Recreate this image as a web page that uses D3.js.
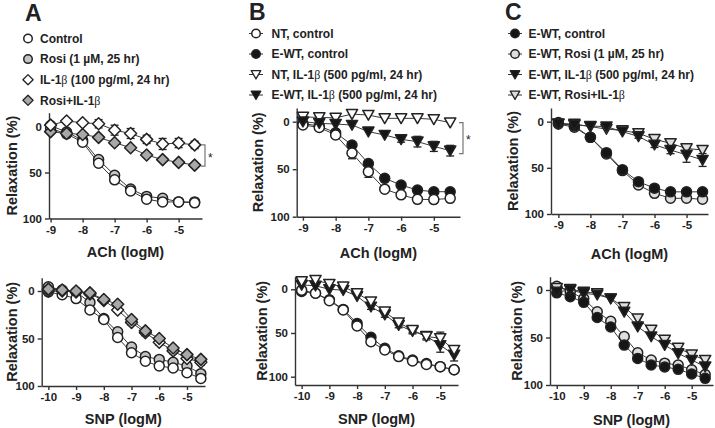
<!DOCTYPE html>
<html><head><meta charset="utf-8">
<script src="https://cdn.jsdelivr.net/npm/d3@7"></script>
<style>body{margin:0;background:#fff}text{font-family:"Liberation Sans",Arial,sans-serif;font-weight:bold;fill:#222}</style>
</head><body>
<svg id="c" width="715" height="428"></svg>
<script>
// ---------- data ----------
const achX = [-9,-8.5,-8,-7.5,-7,-6.5,-6,-5.5,-5,-4.5];
const snpX = [-10,-9.5,-9,-8.5,-8,-7.5,-7,-6.5,-6,-5.5,-5,-4.5];
const yTicks = [0,50,100];
const achTicks = [-9,-8,-7,-6,-5];
const snpTicks = [-10,-9,-8,-7,-6,-5];
const panelLabels = ["A","B","C"];

// Panel A
const legendA = ["Control","Rosi (1 µM, 25 hr)","IL-1β (100 pg/ml, 24 hr)","Rosi+IL-1β"];
const aAchControl = [2,8,17,40,58,70,79,82,82,83];
const aAchRosi    = [-1,6,15,36,53,68,76,78,82,82];
const aAchIL      = [-1.5,-6,-4,-3,4,7.6,14,19,18,20];
const aAchILErr   = [0,0,0,4.5,5.4,5.4,4.5,6,5,4];
const aAchRosiIL  = [5.6,7.6,8.6,11.8,17.6,23,31,36,39,42];
const aSnpControl = [1,4,8,20,30,49,65,74,79,81,86,92];
const aSnpRosi    = [-4.5,-1,1,12,29,43,59,69,72,75,79,87];
const aSnpIL      = [0,0,1,3,10,20,33,44,54,63,71,75];
const aSnpRosiIL  = [-2,-1,0,2,9,14,30,42,50,60,67,72];
const aSnpErr     = [0,0,0,0,0,2,3,3,3,3,3,3];

// Panel B
const legendB = ["NT, control","E-WT, control","NT, IL-1β (500 pg/ml, 24 hr)","E-WT, IL-1β (500 pg/ml, 24 hr)"];
const bAchNT      = [3.5,6,14,33,52.6,71,77,81.7,82,80.7];
const bAchNTErr   = [0,0,2,6,6,3,3.5,2,2,2];
const bAchEWT     = [2,4.5,11.6,24.5,44,59.6,66.7,72,73.7,73.7];
const bAchEWTErr  = [0,0,0,2,3.5,2,2,0,0,0];
const bAchNTIL    = [-5,-4.5,-4,-8,-7,-3.5,-3.5,-3.5,-2.5,1];
const bAchEWTIL   = [0,1.7,2.5,3.5,10.5,14,18.6,21,26,30.5];
const bAchEWTILErr= [0,0,0,0,0,0,3,5.6,5.3,5.6];
const bSnpNT      = [1,4.6,13,23.7,42,60,69.5,77,82,86,88.5,92];
const bSnpEWT     = [2.5,4.6,12,23,39,55,67.5,76,81,85,88.5,92];
const bSnpNTIL    = [-9,-10.6,-6,-3,4.6,14,25.6,38,46.6,54,56,69.5];
const bSnpNTILErr = [0,0,0,0,0,0,0,3,3,4,7,5];
const bSnpEWTIL   = [-5,-4,0,1,8,20,29,41,48,53.5,64,75];
const bSnpEWTILErr= [0,0,0,0,0,3,3,3,3,3,8,7];

// Panel C
const legendC = ["E-WT, control","E-WT, Rosi (1 µM, 25 hr)","E-WT, IL-1β (500 pg/ml, 24 hr)","E-WT, Rosi+IL-1β"];
const cAchEWT     = [1,4.6,17,33.6,52,65,72,76,76,76];
const cAchRosi    = [2.5,6,17,35,53,68.6,77.6,83,83,84];
const cAchIL      = [2.5,3.6,4.7,5.4,10.8,16,25,30.7,36,41.5];
const cAchILErr   = [0,0,0,0,0,2,3,4,8,7];
const cAchRosiIL  = [2,2.5,5.4,8,9.5,12.6,19,23.5,29,30.7];
const cSnpEWT     = [3,7,13,29,39,58,72,79,81,83.5,88.4,93];
const cSnpRosi    = [-4,2,9,23,33,49,66,73.7,77,79,84,89];
const cSnpIL      = [2,0,3.5,5,9,23,38.6,49,58,66.7,73.7,80.7];
const cSnpRosiIL  = [-2,-1,2,3.5,9,18,30,42,52.6,61,68,73.7];

// ---------- drawing ----------
const svg = d3.select("#c");
const WHITE="#ffffff", GRAY="#c4c4c4", DGRAY="#a8a8a8", LGRAY="#dedede", BLACK="#161616";

function shapePath(shape){
  if(shape==="diamond") return "M0,-6L6,0L0,6L-6,0Z";
  if(shape==="tri") return "M-5.6,-4.6L5.6,-4.6L0,5.2Z";
  return null;
}
function marker(g, shape, fill, cx, cy, s){
  s = s||1;
  if(shape==="circle"){
    g.append("circle").attr("cx",cx).attr("cy",cy).attr("r",5*s)
      .attr("fill",fill).attr("stroke","#222").attr("stroke-width",1.5);
  } else {
    g.append("path").attr("d",shapePath(shape))
      .attr("transform",`translate(${cx},${cy}) scale(${s})`)
      .attr("fill",fill).attr("stroke","#222").attr("stroke-width",1.5).attr("stroke-linejoin","round");
  }
}
function labelText(sel, str){
  const parts = str.split("β");
  parts.forEach((p,i)=>{
    if(p) sel.append("tspan").text(p);
    if(i<parts.length-1) sel.append("tspan").text("β")
      .style("font-family","'Liberation Serif','DejaVu Serif',serif").style("font-weight","normal");
  });
}

function drawPlot(cfg){
  const g = svg.append("g");
  const x = d3.scaleLinear().domain(cfg.xd).range(cfg.xr);
  const y = d3.scaleLinear().domain(cfg.yd).range(cfg.yr);
  const xa = g.append("g").attr("transform",`translate(0,${cfg.yr[1]})`)
    .call(d3.axisBottom(x).tickValues(cfg.xt).tickSize(4).tickSizeOuter(0).tickFormat(d=>String(d)).tickPadding(3));
  const ya = g.append("g").attr("transform",`translate(${cfg.xr[0]},0)`)
    .call(d3.axisLeft(y).tickValues(yTicks).tickSize(4).tickSizeOuter(0).tickPadding(3));
  [xa,ya].forEach(a=>{
    a.selectAll("path,line").attr("stroke","#333").attr("stroke-width",1.4);
    a.selectAll("text").style("font-size","11.5px").attr("fill","#2a2a2a")
      .style("font-family","'Liberation Sans',Arial,sans-serif").style("font-weight","bold");
  });
  // titles
  g.append("text").attr("x",(cfg.xr[0]+cfg.xr[1])/2).attr("y",cfg.xTitleY)
    .attr("text-anchor","middle").style("font-size","14.5px").text(cfg.xTitle);
  g.append("text").attr("transform",`translate(${cfg.yTitleX},${(cfg.yr[0]+cfg.yr[1])/2}) rotate(-90)`)
    .attr("text-anchor","middle").attr("dy","0.35em").style("font-size","14.5px").text("Relaxation (%)");
  // lines
  const line = d3.line().x((d,i)=>x(cfg.xs[i])).y(d=>y(d));
  cfg.series.forEach(s=>{
    g.append("path").attr("d",line(s.v)).attr("fill","none").attr("stroke","#3a3a3a").attr("stroke-width",1);
  });
  // error bars
  cfg.series.forEach(s=>{
    if(!s.e) return;
    s.v.forEach((v,i)=>{
      const e=s.e[i]; if(!e) return;
      const px=x(cfg.xs[i]), y1=y(v-e), y2=y(v+e);
      g.append("line").attr("x1",px).attr("x2",px).attr("y1",y1).attr("y2",y2).attr("stroke","#222").attr("stroke-width",1.3);
      [y1,y2].forEach(yy=>g.append("line").attr("x1",px-4).attr("x2",px+4).attr("y1",yy).attr("y2",yy).attr("stroke","#222").attr("stroke-width",1.3));
    });
  });
  // markers
  cfg.series.forEach(s=>{
    s.v.forEach((v,i)=>marker(g,s.shape,s.fill,x(cfg.xs[i]),y(v)));
  });
  // significance bracket
  if(cfg.bracket){
    const b=cfg.bracket, bx=cfg.xr[1]+3;
    const t=y(b[0]), bt=y(b[1])+1;
    g.append("path").attr("d",`M${bx-4},${t}H${bx}V${bt}H${bx-4}`).attr("fill","none").attr("stroke","#777").attr("stroke-width",1.2);
    g.append("text").attr("x",bx+3).attr("y",(t+bt)/2+6).style("font-size","12px").style("font-weight","normal").attr("fill","#777").text("*");
  }
}

function drawLegend(cfg){
  const g = svg.append("g");
  g.append("text").attr("x",cfg.lx).attr("y",cfg.ly).style("font-size","23px").text(cfg.label);
  cfg.items.forEach((it,i)=>{
    const cy = cfg.y0 + i*cfg.dy;
    if(cfg.seg) g.append("line").attr("x1",cfg.mx-7).attr("x2",cfg.mx+7).attr("y1",cy).attr("y2",cy).attr("stroke","#333").attr("stroke-width",1);
    marker(g,it.shape,it.fill,cfg.mx,cy,0.85);
    const t = g.append("text").attr("x",cfg.tx).attr("y",cy).attr("dy","0.36em").style("font-size","12px");
    labelText(t,it.text);
  });
}

// Panel A
drawLegend({label:panelLabels[0],lx:25,ly:21,mx:28,tx:40,y0:38.5,dy:20.6,seg:false,items:[
  {shape:"circle",fill:WHITE,text:legendA[0]},{shape:"circle",fill:GRAY,text:legendA[1]},
  {shape:"diamond",fill:WHITE,text:legendA[2]},{shape:"diamond",fill:DGRAY,text:legendA[3]}]});
drawPlot({xd:[-9.05,-4.27],xr:[49,202],yd:[-15,100],yr:[112.7,218.5],xt:achTicks,xs:achX,
  xTitle:"ACh (logM)",xTitleY:257,yTitleX:12,bracket:[aAchIL[9],aAchRosiIL[9]],series:[
  {v:aAchRosi,shape:"circle",fill:GRAY},{v:aAchControl,shape:"circle",fill:WHITE},
  {v:aAchRosiIL,shape:"diamond",fill:DGRAY},{v:aAchIL,e:aAchILErr,shape:"diamond",fill:WHITE}]});
drawPlot({xd:[-10.24,-4.35],xr:[41.7,205],yd:[-14,100],yr:[277.7,386],xt:snpTicks,xs:snpX,
  xTitle:"SNP (logM)",xTitleY:423.5,yTitleX:12,series:[
  {v:aSnpRosi,shape:"circle",fill:GRAY},{v:aSnpControl,e:aSnpErr,shape:"circle",fill:WHITE},
  {v:aSnpIL,e:aSnpErr,shape:"diamond",fill:WHITE},{v:aSnpRosiIL,shape:"diamond",fill:DGRAY}]});

// Panel B
drawLegend({label:panelLabels[1],lx:249,ly:20,mx:256,tx:271.5,y0:33.5,dy:20.5,seg:true,items:[
  {shape:"circle",fill:WHITE,text:legendB[0]},{shape:"circle",fill:BLACK,text:legendB[1]},
  {shape:"tri",fill:WHITE,text:legendB[2]},{shape:"tri",fill:BLACK,text:legendB[3]}]});
drawPlot({xd:[-9.19,-4.2],xr:[296.7,460],yd:[-14.4,100],yr:[108,216.7],xt:achTicks,xs:achX,
  xTitle:"ACh (logM)",xTitleY:257.5,yTitleX:258,bracket:[bAchNTIL[9],bAchEWTIL[9]+2],series:[
  {v:bAchEWT,e:bAchEWTErr,shape:"circle",fill:BLACK},{v:bAchNT,e:bAchNTErr,shape:"circle",fill:WHITE},
  {v:bAchNTIL,shape:"tri",fill:WHITE},{v:bAchEWTIL,e:bAchEWTILErr,shape:"tri",fill:BLACK}]});
drawPlot({xd:[-10.24,-4.36],xr:[295,458],yd:[-14.4,109.5],yr:[276.7,385],xt:snpTicks,xs:snpX,
  xTitle:"SNP (logM)",xTitleY:423.5,yTitleX:262,series:[
  {v:bSnpEWT,shape:"circle",fill:BLACK},{v:bSnpNT,shape:"circle",fill:WHITE},
  {v:bSnpEWTIL,e:bSnpEWTILErr,shape:"tri",fill:BLACK},{v:bSnpNTIL,e:bSnpNTILErr,shape:"tri",fill:WHITE}]});

// Panel C
drawLegend({label:panelLabels[2],lx:505,ly:20,mx:515,tx:528.5,y0:33.5,dy:20.5,seg:true,items:[
  {shape:"circle",fill:BLACK,text:legendC[0]},{shape:"circle",fill:LGRAY,text:legendC[1]},
  {shape:"tri",fill:BLACK,text:legendC[2]},{shape:"tri",fill:LGRAY,text:legendC[3]}]});
drawPlot({xd:[-9.23,-4.33],xr:[551,708],yd:[-14.8,100],yr:[108,214],xt:achTicks,xs:achX,
  xTitle:"ACh (logM)",xTitleY:259,yTitleX:513,series:[
  {v:cAchRosi,shape:"circle",fill:LGRAY},{v:cAchEWT,shape:"circle",fill:BLACK},
  {v:cAchRosiIL,shape:"tri",fill:LGRAY},{v:cAchIL,e:cAchILErr,shape:"tri",fill:BLACK}]});
drawPlot({xd:[-10.25,-4.21],xr:[550,713],yd:[-14,100],yr:[276.7,385],xt:snpTicks,xs:snpX,
  xTitle:"SNP (logM)",xTitleY:425,yTitleX:517,series:[
  {v:cSnpRosi,shape:"circle",fill:LGRAY},{v:cSnpEWT,shape:"circle",fill:BLACK},
  {v:cSnpRosiIL,shape:"tri",fill:LGRAY},{v:cSnpIL,shape:"tri",fill:BLACK}]});
</script>
</body></html>
